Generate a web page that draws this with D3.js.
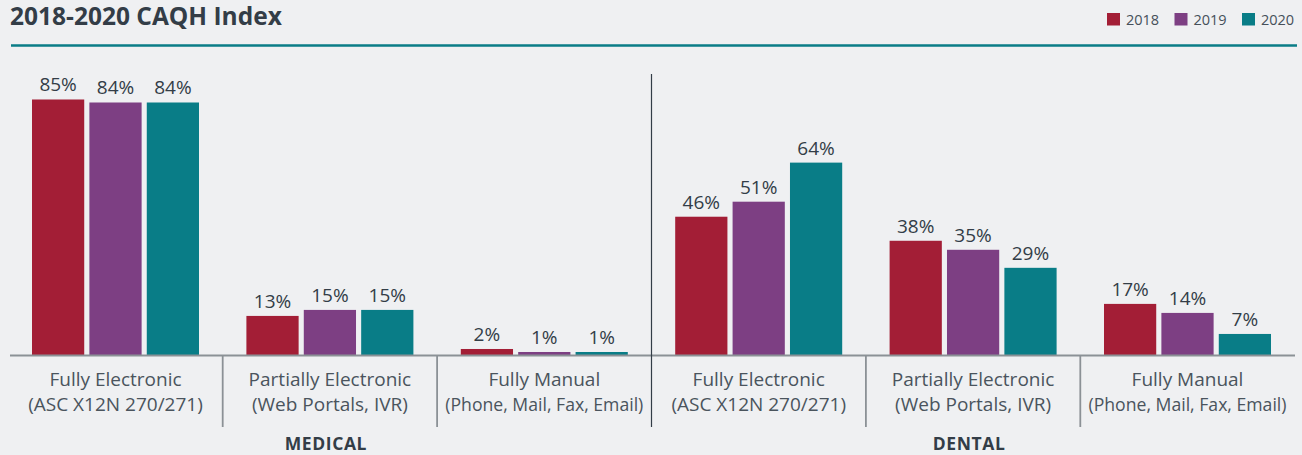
<!DOCTYPE html>
<html>
<head>
<meta charset="utf-8">
<script src="https://cdn.jsdelivr.net/npm/d3@7"></script>
<style>
  body { margin: 0; background: #eff0f2; }
  svg { display: block; font-family: "Open Sans", sans-serif; }
</style>
</head>
<body>
<svg id="chart" width="1302" height="455"></svg>
<script>
const years = ["2018", "2019", "2020"];
const categories = ["m-fe", "m-pe", "m-fm", "d-fe", "d-pe", "d-fm"];
const catLine1 = ["Fully Electronic", "Partially Electronic", "Fully Manual",
                  "Fully Electronic", "Partially Electronic", "Fully Manual"];
const catLine2 = ["(ASC X12N 270/271)", "(Web Portals, IVR)", "(Phone, Mail, Fax, Email)",
                  "(ASC X12N 270/271)", "(Web Portals, IVR)", "(Phone, Mail, Fax, Email)"];
const values2018 = [85, 13, 2, 46, 38, 17];
const values2019 = [84, 15, 1, 51, 35, 14];
const values2020 = [84, 15, 1, 64, 29, 7];
const sections = ["MEDICAL", "DENTAL"];

const colors = { "2018": "#a31e36", "2019": "#7d3f83", "2020": "#097d87" };
const seriesValues = { "2018": values2018, "2019": values2019, "2020": values2020 };

const svg = d3.select("#chart");
const base = 355;

// title + rule
svg.append("text")
  .attr("x", 10).attr("y", 25)
  .attr("font-size", 24.5).attr("font-weight", 700)
  .attr("fill", "#333d47")
  .text("2018-2020 CAQH Index");

svg.append("line")
  .attr("x1", 11).attr("x2", 1297)
  .attr("y1", 45.5).attr("y2", 45.5)
  .attr("stroke", "#0a7d87").attr("stroke-width", 2.5);

// legend
const legend = svg.append("g").selectAll("g")
  .data(years).join("g")
  .attr("transform", (d, i) => `translate(${1107 + i * 67.5},13)`);
legend.append("rect").attr("width", 13).attr("height", 12.5).attr("fill", d => colors[d]);
legend.append("text").attr("x", 19).attr("y", 11.5)
  .attr("font-size", 14.5).attr("fill", "#46505a").text(d => d);

// scales
const x = d3.scaleBand().domain(categories).range([8.3, 1294.7]).paddingInner(0).paddingOuter(0);
const xs = d3.scaleBand().domain(years).range([23.7, 190.7]).paddingInner(0.09).paddingOuter(0);
const y = d3.scaleLinear().domain([0, 100]).range([base, 54.4]);

const groups = svg.append("g").selectAll("g")
  .data(categories).join("g")
  .attr("transform", d => `translate(${x(d)},0)`);

const bars = groups.selectAll("g.bar")
  .data((c, ci) => years.map(yr => ({ yr, v: seriesValues[yr][ci] })))
  .join("g").attr("class", "bar");

bars.append("rect")
  .attr("x", d => xs(d.yr))
  .attr("width", xs.bandwidth())
  .attr("y", d => y(d.v))
  .attr("height", d => base - y(d.v))
  .attr("fill", d => colors[d.yr]);

bars.append("text")
  .attr("x", d => xs(d.yr) + xs.bandwidth() / 2)
  .attr("y", d => y(d.v) - 8)
  .attr("text-anchor", "middle")
  .attr("font-size", 19).attr("font-weight", 500).attr("fill", "#333d47")
  .text(d => d.v + "%");

// baseline axis
svg.append("line")
  .attr("x1", 10).attr("x2", 1295)
  .attr("y1", base + 0.5).attr("y2", base + 0.5)
  .attr("stroke", "#8b9196").attr("stroke-width", 2);

// separators between categories
const seps = categories.slice(1).map(c => x(c));
svg.append("g").selectAll("line")
  .data(seps).join("line")
  .attr("x1", d => d).attr("x2", d => d)
  .attr("y1", (d, i) => i === 2 ? 74 : base)
  .attr("y2", 427)
  .attr("stroke", (d, i) => i === 2 ? "#333d47" : "#8b9196")
  .attr("stroke-width", (d, i) => i === 2 ? 1.2 : 1.8);

// category labels
const labels = svg.append("g").selectAll("text")
  .data(categories).join("text")
  .attr("text-anchor", "middle")
  .attr("font-size", 19).attr("fill", "#4a545d");
labels.append("tspan")
  .attr("x", d => x(d) + x.bandwidth() / 2).attr("y", 386)
  .text((d, i) => catLine1[i]);
labels.append("tspan")
  .attr("x", d => x(d) + x.bandwidth() / 2).attr("y", 411)
  .text((d, i) => catLine2[i])
  .each(function () {
    // the long line is set tight in the original
    if (this.getComputedTextLength() > 198) {
      d3.select(this).attr("textLength", 198).attr("lengthAdjust", "spacingAndGlyphs");
    }
  });

// section labels
svg.append("g").selectAll("text")
  .data(sections).join("text")
  .attr("x", (d, i) => x(categories[1 + i * 3]) + x.bandwidth() / 2 - 4)
  .attr("y", 450)
  .attr("text-anchor", "middle")
  .attr("font-size", 17.5).attr("font-weight", 700)
  .attr("letter-spacing", 0.6)
  .attr("fill", "#333d47")
  .text(d => d);
</script>
</body>
</html>
